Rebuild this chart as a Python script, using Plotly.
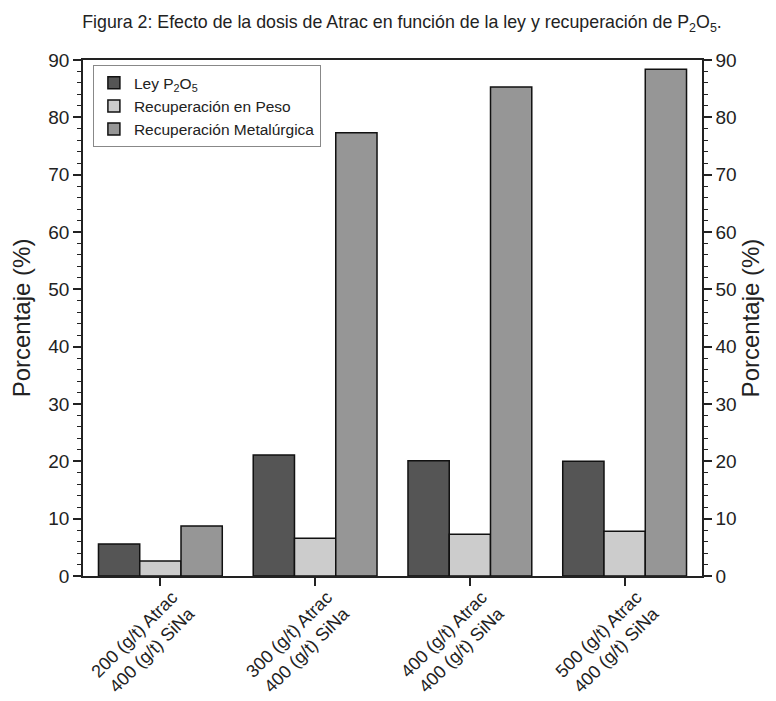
import plotly.graph_objects as go

categories = ["200 (g/t) Atrac<br>400 (g/t) SiNa", "300 (g/t) Atrac<br>400 (g/t) SiNa",
              "400 (g/t) Atrac<br>400 (g/t) SiNa", "500 (g/t) Atrac<br>400 (g/t) SiNa"]
ley = [5.6, 21.1, 20.1, 20.0]
rec_peso = [2.6, 6.6, 7.3, 7.8]
rec_met = [8.7, 77.3, 85.3, 88.4]
series_names = ["Ley P<sub>2</sub>O<sub>5</sub>", "Recuperación en Peso", "Recuperación Metalúrgica"]
colors = ["#555555", "#cccccc", "#969696"]

font_main = "Liberation Sans, Arial, sans-serif"
fig = go.Figure()
for name, vals, c in zip(series_names, [ley, rec_peso, rec_met], colors):
    fig.add_trace(go.Bar(x=categories, y=vals, name=name, marker_color=c,
                         marker_line=dict(color="#111111", width=1.5)))
# invisible trace for right axis
fig.add_trace(go.Scatter(x=categories, y=ley, yaxis="y2", mode="markers",
                         marker=dict(opacity=0), showlegend=False, hoverinfo="skip"))

tickfont = dict(family=font_main, size=19, color="#222")
common_y = dict(range=[0, 90], dtick=10, ticks="outside", ticklen=8, tickwidth=1.5,
                tickcolor="#222", showline=True, linecolor="#222", linewidth=1.5,
                showgrid=False, zeroline=False, tickfont=tickfont, automargin=False,
                minor=dict(dtick=2, ticks="outside", ticklen=4, tickcolor="#222", tickwidth=1))
title_font = dict(family=font_main, size=24, color="#222")
fig.update_layout(
    width=768, height=693,
    margin=dict(l=75, r=74, t=52, b=125),
    plot_bgcolor="white", paper_bgcolor="white",
    barmode="group", bargap=0.2, bargroupgap=0,
    title=dict(text="Figura 2: Efecto de la dosis de Atrac en función de la ley y recuperación de P<sub>2</sub>O<sub>5</sub>.",
               x=0.513, xanchor="center", y=0.98, yanchor="middle",
               font=dict(family="Liberation Sans Narrow, Arial Narrow, sans-serif", size=17.8, color="#222")),
    xaxis=dict(range=[-0.5, 3.5], showline=True, linecolor="#222", linewidth=1.5, mirror=True,
               ticks="outside", ticklen=8, tickwidth=1.5, tickcolor="#222", tickangle=-45,
               automargin=False, ticklabelshift=12, ticklabelstandoff=-6,
               tickfont=dict(family=font_main, size=18, color="#222"), showgrid=False),
    yaxis=dict(**common_y, title=dict(text="Porcentaje (%)", standoff=14, font=title_font)),
    yaxis2=dict(overlaying="y", side="right", **common_y,
                title=dict(text="Porcentaje (%)", standoff=4, font=title_font)),
    legend=dict(x=0.016, y=0.99, xanchor="left", yanchor="top",
                bgcolor="white", bordercolor="#888", borderwidth=1,
                font=dict(family=font_main, size=15.5, color="#222"), tracegroupgap=0),
    showlegend=True,
)
fig.write_html("out.html")
